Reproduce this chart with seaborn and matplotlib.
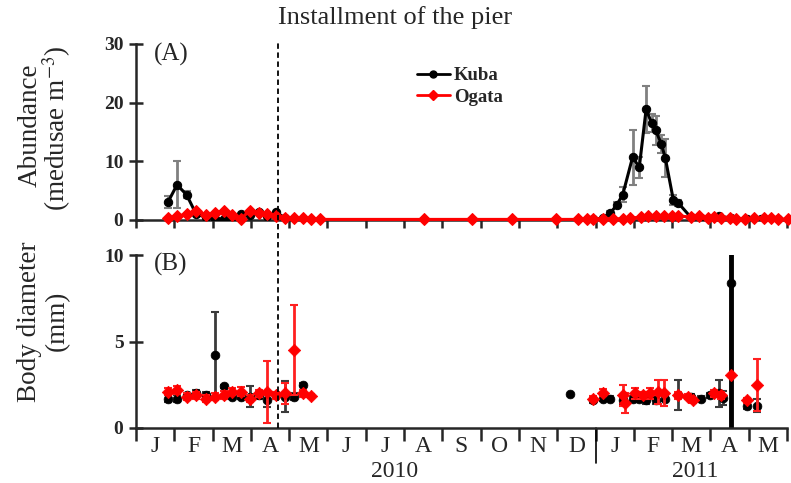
import numpy as np
import pandas as pd
import matplotlib
matplotlib.use("Agg")
import matplotlib.pyplot as plt
import matplotlib.transforms as mtransforms
from matplotlib.lines import Line2D
import seaborn as sns

# ---------------- data ----------------
month_labels = ["J", "F", "M", "A", "M", "J", "J", "A", "S", "O", "N", "D",
                "J", "F", "M", "A", "M"]
year_labels = ["2010", "2011"]
pier_date = "2010-04-22"

# (A) abundance, Kuba
kuba_ab_dates = ["2010-01-27", "2010-02-03", "2010-02-10", "2010-02-17", "2010-02-24",
                 "2010-03-03", "2010-03-10", "2010-03-17", "2010-03-24", "2010-03-31",
                 "2010-04-07", "2010-04-14", "2010-04-21", "2010-04-28", "2010-05-05",
                 "2010-05-12", "2010-05-19", "2010-05-26", "2010-08-17", "2010-09-24",
                 "2010-10-26", "2010-11-30", "2010-12-18", "2010-12-25", "2010-12-30",
                 "2011-01-07", "2011-01-13", "2011-01-18", "2011-01-23", "2011-01-31",
                 "2011-02-05", "2011-02-10", "2011-02-14", "2011-02-17", "2011-02-21",
                 "2011-02-24", "2011-03-02", "2011-03-06", "2011-03-16", "2011-03-24",
                 "2011-04-08", "2011-04-17", "2011-04-30", "2011-05-11", "2011-05-25"]
kuba_ab = [3.1, 6.0, 4.3, 1.0, 0.5, 0.2, 0.2, 0.3, 1.0, 0.9, 1.3, 0.7, 1.3, 0.3, 0.1,
           0.0, 0.0, 0.0, 0.0, 0.0, 0.0, 0.0, 0.0, 0.0, 0.1,
           0.3, 1.2, 2.5, 4.3, 10.7, 9.0, 18.9, 16.5, 15.3, 13.0, 10.6, 3.4, 2.9, 0.5, 0.3,
           0.7, 0.3, 0.1, 0.1, 0.1]
kuba_ab_err = [1.0, 4.0, 0.6, 0, 0, 0, 0, 0, 0, 0, 0, 0, 0, 0, 0,
               0, 0, 0, 0, 0, 0, 0, 0, 0, 0,
               0, 0.3, 0.5, 1.3, 4.7, 1.8, 4.0, 1.5, 2.5, 1.5, 3.2, 0.8, 0.5, 0, 0,
               0.2, 0, 0, 0, 0]

# (A) abundance, Ogata
ogata_ab_dates = ["2010-01-27", "2010-02-03", "2010-02-10", "2010-02-17", "2010-02-24",
                  "2010-03-03", "2010-03-10", "2010-03-17", "2010-03-24", "2010-03-31",
                  "2010-04-07", "2010-04-14", "2010-04-21", "2010-04-28", "2010-05-05",
                  "2010-05-12", "2010-05-19", "2010-05-26", "2010-08-17", "2010-09-24",
                  "2010-10-26", "2010-11-30", "2010-12-18", "2010-12-25", "2010-12-30",
                  "2011-01-07", "2011-01-15", "2011-01-23", "2011-01-29", "2011-02-06",
                  "2011-02-11", "2011-02-17", "2011-02-23", "2011-03-01", "2011-03-06",
                  "2011-03-16", "2011-03-23", "2011-03-30", "2011-04-04", "2011-04-09",
                  "2011-04-16", "2011-04-21", "2011-04-28", "2011-05-05", "2011-05-13",
                  "2011-05-19", "2011-05-25", "2011-06-02"]
ogata_ab = [0.3, 0.6, 1.0, 1.5, 0.9, 1.2, 1.6, 0.9, 0.2, 1.6, 1.2, 1.0, 0.7, 0.4, 0.4,
            0.3, 0.1, 0.1, 0.1, 0.1, 0.1, 0.1, 0.1, 0.1, 0.2,
            0.2, 0.2, 0.2, 0.3, 0.5, 0.6, 0.6, 0.7, 0.7, 0.7, 0.5, 0.7, 0.4, 0.5, 0.4,
            0.3, 0.2, 0.2, 0.3, 0.4, 0.3, 0.2, 0.1]

# (B) body diameter, Kuba
kuba_bd_dates = ["2010-01-27", "2010-02-03", "2010-02-10", "2010-02-17", "2010-02-24",
                 "2010-03-03", "2010-03-10", "2010-03-17", "2010-03-24", "2010-03-31",
                 "2010-04-07", "2010-04-14", "2010-04-21", "2010-04-28", "2010-05-05",
                 "2010-05-12", "2010-12-11", "2010-12-30", "2011-01-07", "2011-01-13",
                 "2011-01-23", "2011-01-31", "2011-02-05", "2011-02-10", "2011-02-17",
                 "2011-02-24", "2011-03-06", "2011-03-16", "2011-03-24", "2011-04-01",
                 "2011-04-08", "2011-04-11", "2011-04-17", "2011-04-30", "2011-05-08"]
kuba_bd = [1.7, 1.7, 1.9, 2.0, 1.9, 4.2, 2.4, 1.8, 1.8, 1.8, 1.9, 1.6, 1.9, 1.8, 1.8,
           2.5, 1.95, 1.6, 1.7, 1.7, 1.6, 1.7, 1.7, 1.6, 1.6, 1.7, 1.9, 1.8, 1.7, 1.9,
           2.0, 1.75, 8.4, 1.3, 1.3]
kuba_bd_err = [0.2, 0.2, 0.15, 0.2, 0.2, 2.5, 0.1, 0.1, 0.1, 0.6, 0.2, 0.4, 0.2, 0.9, 0.2,
               0.1, 0, 0.15, 0.15, 0.15, 0.2, 0.15, 0.15, 0.2, 0.2, 0.15, 0.85, 0.15, 0.15,
               0.15, 0.8, 0.4, 8.4, 0.2, 0.35]

# (B) body diameter, Ogata
ogata_bd_dates = ["2010-01-27", "2010-02-03", "2010-02-10", "2010-02-17", "2010-02-24",
                  "2010-03-03", "2010-03-10", "2010-03-17", "2010-03-24", "2010-03-31",
                  "2010-04-07", "2010-04-14", "2010-04-21", "2010-04-28", "2010-05-05",
                  "2010-05-12", "2010-05-19", "2010-12-30", "2011-01-07", "2011-01-23",
                  "2011-01-25", "2011-02-02", "2011-02-08", "2011-02-13", "2011-02-19",
                  "2011-02-23", "2011-03-06", "2011-03-14", "2011-03-18", "2011-04-04",
                  "2011-04-09", "2011-04-17", "2011-04-30", "2011-05-08"]
ogata_bd = [2.1, 2.2, 1.8, 1.9, 1.7, 1.8, 1.9, 2.1, 2.1, 1.7, 2.0, 2.1, 1.9, 2.0, 4.5,
            2.0, 1.85, 1.7, 2.05, 1.9, 1.45, 2.0, 1.9, 2.0, 2.1, 2.0, 1.9, 1.8, 1.6, 2.0,
            1.9, 3.05, 1.6, 2.5]
ogata_bd_err = [0.2, 0.25, 0.2, 0.2, 0.2, 0.2, 0.25, 0.2, 0.25, 0.2, 0.2, 1.8, 0.2, 0.6, 2.6,
                0.2, 0.1, 0.15, 0.2, 0.6, 0.6, 0.3, 0.2, 0.3, 0.7, 0.75, 0.2, 0.15, 0.15,
                0.2, 0.2, 0, 0.15, 1.5]


def mpos(s):
    d = pd.Timestamp(s)
    return (d.year - 2010) * 12 + d.month - 1 + (d.day - 1) / d.days_in_month


def frame(dates, vals, errs=None):
    df = pd.DataFrame({"x": [mpos(s) for s in dates], "y": vals})
    df["err"] = errs if errs is not None else 0.0
    return df


kab = frame(kuba_ab_dates, kuba_ab, kuba_ab_err)
oab = frame(ogata_ab_dates, ogata_ab)
kbd = frame(kuba_bd_dates, kuba_bd, kuba_bd_err)
obd = frame(ogata_bd_dates, ogata_bd, ogata_bd_err)

# ---------------- style ----------------
sns.set_style("ticks")
plt.rcParams["font.family"] = ["Liberation Serif", "DejaVu Serif"]
plt.rcParams["mathtext.fontset"] = "stix"

W, H = 791, 483
fig = plt.figure(figsize=(W / 100, H / 100), dpi=100)
L, R = 136 / W, 787 / W
ax1 = fig.add_axes([L, 1 - 220 / H, R - L, 176 / H])
ax2 = fig.add_axes([L, 1 - 428 / H, R - L, 173 / H])

BLACK = "#000000"
RED = "#ff0000"
XMAX = 17.0

# ---- panel A ----
e = kab[kab.err > 0]
ax1.errorbar(e.x, e.y, yerr=e.err, fmt="none", ecolor="#808080", elinewidth=2,
             capsize=3, capthick=1.5, zorder=2)
sns.lineplot(data=kab, x="x", y="y", ax=ax1, color=BLACK, lw=2.2, marker="o",
             markersize=6, markeredgecolor=BLACK, sort=False, zorder=3)
sns.lineplot(data=oab, x="x", y="y", ax=ax1, color=RED, lw=2.2, marker="D",
             markersize=6.5, markeredgecolor=RED, sort=False, zorder=4, clip_on=False)
ax1.set_ylim(0, 30)
ax1.set_yticks([0, 10, 20, 30])

# ---- panel B ----
e = kbd[kbd.err > 0]
small = e[e.err < 5]
big = e[e.err >= 5]
ax2.errorbar(small.x, small.y, yerr=small.err, fmt="none", ecolor="#3a3a3a",
             elinewidth=2, capsize=3, capthick=1.5, zorder=2)
ax2.errorbar(big.x, big.y, yerr=big.err, fmt="none", ecolor=BLACK,
             elinewidth=3.5, capsize=0, zorder=2)
sns.scatterplot(data=kbd, x="x", y="y", ax=ax2, color=BLACK, marker="o", s=40,
                edgecolor=BLACK, zorder=3)
e = obd[obd.err > 0]
ax2.errorbar(e.x, e.y, yerr=e.err, fmt="none", ecolor="#ff2020", elinewidth=2,
             capsize=3, capthick=1.5, zorder=4)
sns.scatterplot(data=obd, x="x", y="y", ax=ax2, color=RED, marker="D", s=40,
                edgecolor=RED, zorder=5)
ax2.set_ylim(0, 10)
ax2.set_yticks([0, 5, 10])

# ---- common axes styling ----
for ax in (ax1, ax2):
    ax.set_xlim(0, XMAX)
    ax.set_xlabel("")
    ax.set_ylabel("")
    sns.despine(ax=ax)
    ax.spines["left"].set_linewidth(1.8)
    ax.spines["bottom"].set_linewidth(1.8)
    ax.set_xticks(np.arange(0, 18))
    ax.tick_params(axis="y", direction="inout", length=10, width=1.8, labelsize=14,
                   pad=4)
    for t in ax.get_yticklabels():
        t.set_fontweight("bold")
    ax.patch.set_alpha(0)

ax1.tick_params(axis="x", direction="out", length=6, width=1.8, labelbottom=False)
ax2.tick_params(axis="x", which="major", direction="out", length=9, width=1.8,
                labelbottom=False)
ax2.set_xticks(np.arange(len(month_labels)) + 0.5, minor=True)
ax2.set_xticklabels(month_labels, minor=True, fontsize=17)
ax2.tick_params(axis="x", which="minor", length=0, pad=6)

# y-axis titles (two lines each)
YL = 19.5
fig.text(30 / W, 1 - 125 / H, "Abundance", rotation=90, ha="center", va="center",
         fontsize=YL)
fig.text(57 / W, 1 - 128 / H, "(medusae m$^{-3}$)", rotation=90, ha="center",
         va="center", fontsize=YL)
fig.text(30 / W, 1 - 322 / H, "Body diameter", rotation=90, ha="center", va="center",
         fontsize=YL)
fig.text(57 / W, 1 - 321 / H, "(mm)", rotation=90, ha="center", va="center",
         fontsize=YL)

ax1.text(0.027, 1.005, "(A)", transform=ax1.transAxes, fontsize=18, va="top")
ax2.text(0.027, 1.01, "(B)", transform=ax2.transAxes, fontsize=18, va="top")

# year labels and separator
bx2 = mtransforms.blended_transform_factory(ax2.transData, ax2.transAxes)
ax2.text(6.75, -0.19, year_labels[0], transform=bx2, ha="center", va="top", fontsize=17)
ax2.text(14.6, -0.19, year_labels[1], transform=bx2, ha="center", va="top", fontsize=17)
ax2.plot([12, 12], [0, -0.2], color=BLACK, lw=1.2, clip_on=False, transform=bx2)

# pier line spanning both panels
bt = mtransforms.blended_transform_factory(ax1.transData, fig.transFigure)
xp = mpos(pier_date)
fig.add_artist(Line2D([xp, xp], [1 - 428 / H, 1 - 40 / H], transform=bt,
                      color=BLACK, lw=1.3, ls=(0, (3, 2))))
fig.text(395 / W, 1 - 18 / H, "Installment of the pier", ha="center", va="center",
         fontsize=19)

# legend
handles = [Line2D([], [], color=BLACK, lw=2, marker="o", markersize=5),
           Line2D([], [], color=RED, lw=2, marker="D", markersize=5)]
leg = ax1.legend(handles, ["Kuba", "Ogata"], loc="upper left",
                 bbox_to_anchor=(0.405, 0.965), frameon=False, handlelength=1.8,
                 handletextpad=0.2, labelspacing=0.25,
                 prop={"weight": "bold", "size": 13.5})

fig.savefig("out.png", dpi=100)
